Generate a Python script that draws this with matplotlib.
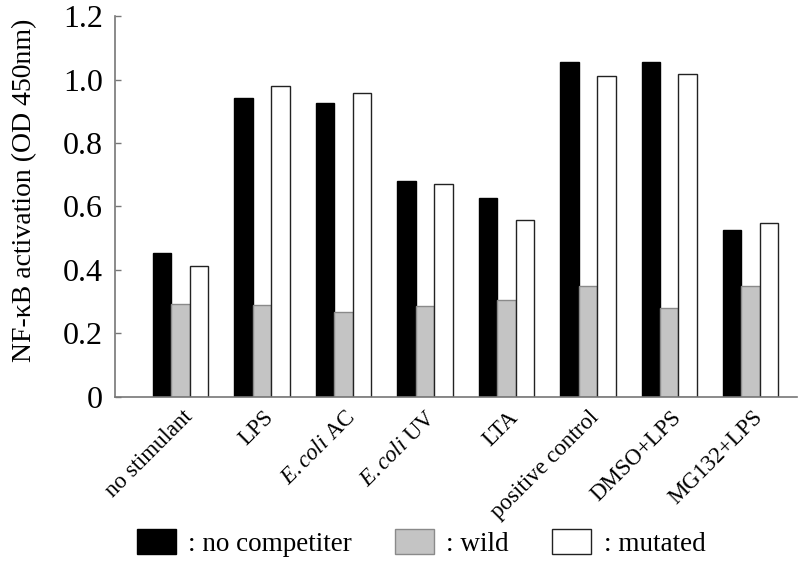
import numpy as np
import matplotlib.pyplot as plt
import matplotlib.transforms as mtransforms

# values (OD 450nm)
categories = ["no stimulant", "LPS", "$\\it{E{.}coli}$ AC", "$\\it{E{.}coli}$ UV", "LTA",
              "positive control", "DMSO+LPS", "MG132+LPS"]
no_competiter = [0.452, 0.941, 0.927, 0.680, 0.627, 1.055, 1.055, 0.527]
wild = [0.292, 0.289, 0.269, 0.287, 0.305, 0.351, 0.280, 0.351]
mutated = [0.414, 0.981, 0.958, 0.671, 0.558, 1.011, 1.018, 0.547]
series_labels = [": no competiter", ": wild", ": mutated"]
yticks = [0, 0.2, 0.4, 0.6, 0.8, 1.0, 1.2]
ytick_labels = ["0", "0.2", "0.4", "0.6", "0.8", "1.0", "1.2"]

plt.rcParams["font.family"] = ["Liberation Serif", "DejaVu Serif"]
plt.rcParams["mathtext.fontset"] = "custom"
plt.rcParams["mathtext.it"] = "Liberation Serif:italic"
plt.rcParams["mathtext.rm"] = "Liberation Serif"

fig = plt.figure(figsize=(7.99, 5.74), dpi=100)
ax = fig.add_axes([0.1439, 0.3084, 0.8536, 0.6637])

x = np.arange(len(categories))
w = 0.227
styles = [
    dict(color="black", edgecolor="black"),
    dict(color="#c4c4c4", edgecolor="#8a8a8a"),
    dict(color="white", edgecolor="#222222"),
]
for i, (vals, lab, st) in enumerate(zip([no_competiter, wild, mutated], series_labels, styles)):
    ax.bar(x + (i - 1) * w, vals, width=w, linewidth=1.0, label=lab,
           facecolor=st["color"], edgecolor=st["edgecolor"])

ax.set_xlim(-0.807, 7.569)
ax.set_ylim(0, 1.2)
ax.set_yticks(yticks)
ax.set_yticklabels(ytick_labels, fontsize=23)
ax.tick_params(axis="y", direction="in", length=4, width=1, color="#777777", pad=8.5)
ax.tick_params(axis="x", length=0, pad=7)

ax.set_xticks(x)
ax.set_xticklabels(categories, fontsize=16.5, rotation=45, ha="right",
                   va="top", rotation_mode="anchor")
offset = mtransforms.ScaledTranslation(1 / 100, 0, fig.dpi_scale_trans)
for lbl in ax.get_xticklabels():
    lbl.set_transform(lbl.get_transform() + offset)

for side in ["top", "right"]:
    ax.spines[side].set_visible(False)
for side in ["left", "bottom"]:
    ax.spines[side].set_color("#777777")
    ax.spines[side].set_linewidth(1.2)

ax.set_ylabel("NF-κB activation (OD 450nm)", fontsize=20)
ax.yaxis.set_label_coords(-0.114, 0.543)

fig.legend(loc="center", bbox_to_anchor=(0.527, 0.054), ncol=3, frameon=False,
           fontsize=19.5, handlelength=1.44, handleheight=1.0, handletextpad=0.45,
           columnspacing=1.6)

fig.savefig("out.png", dpi=100)
